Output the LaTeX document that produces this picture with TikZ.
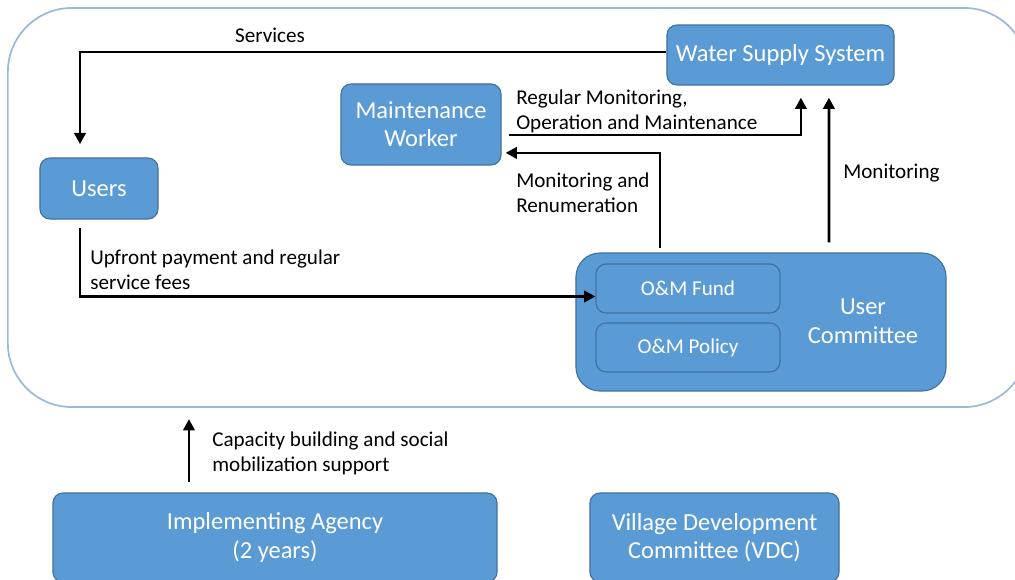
\documentclass[tikz,border=0pt]{standalone}
\usepackage{fontspec}
\setmainfont{Carlito}
\usetikzlibrary{arrows.meta}

\definecolor{boxblue}{HTML}{5B9BD5}
\definecolor{boxedge}{HTML}{41719C}
\definecolor{frameblue}{HTML}{9DB7D8}

\tikzset{
  unit/.style={rounded corners=0.25cm, fill=boxblue, draw=boxedge, line width=0.8pt,
    text=white, align=center, inner sep=0pt, font=\fontsize{17.4}{20}\selectfont},
  subunit/.style={unit, font=\fontsize{15}{18}\selectfont},
  flow/.style={line width=2pt, -{Triangle[length=8pt,width=8pt]}},
  note/.style={align=left, anchor=west, inner sep=0pt, font=\fontsize{15}{17.8}\selectfont}
}

\begin{document}
\begin{tikzpicture}[x=0.025cm,y=-0.025cm]
  \useasboundingbox (0,0) rectangle (1015,580);

  % outer frame of the scheme
  \node[draw=frameblue, line width=1.2pt, rounded corners=1.6cm,
        minimum width=25.5cm, minimum height=9.975cm] (scheme) at (518,207.5) {};

  % boxes
  \node[unit, minimum width=5.675cm, minimum height=1.5cm] (wss) at (780.5,55) {Water Supply System};
  \node[unit, minimum width=4cm, minimum height=2.025cm] (worker) at (421,124.5) {Maintenance\\Worker};
  \node[unit, minimum width=2.95cm, minimum height=1.525cm] (users) at (99,188.5) {Users};
  \node[unit, rounded corners=0.6cm, minimum width=9.25cm, minimum height=3.45cm] (committee) at (761,322) {};
  \node[text=white, align=center, font=\fontsize{17.4}{20.6}\selectfont] (ucname) at (863,321) {User\\Committee};
  \node[subunit, minimum width=4.6cm, minimum height=1.225cm] (fund) at (688,288.5) {O\&M Fund};
  \node[subunit, minimum width=4.6cm, minimum height=1.225cm] (policy) at (688,347.5) {O\&M Policy};
  \node[unit, minimum width=11.1cm, minimum height=2.225cm] (agency) at (275,537.5) {Implementing Agency\\(2 years)};
  \node[unit, minimum width=6.225cm, minimum height=2.225cm] (vdc) at (714.5,537.5) {Village Development\\Committee (VDC)};

  % flows
  \draw[flow, shorten >=0.33cm] ([yshift=0.075cm]wss.west) -| ([xshift=-0.475cm]users.north);
  \draw[flow] ([xshift=-0.475cm,yshift=-0.2cm]users.south) |- ([yshift=-0.2cm]fund.west);
  \draw[flow, shorten >=0.3cm] ([xshift=0.18cm,yshift=-0.26cm]worker.east) -| ([xshift=0.51cm]wss.south);
  \draw[flow, shorten >=0.1cm] ([xshift=-2.525cm,yshift=0.12cm]committee.north) |- ([yshift=-0.71cm]worker.east);
  \draw[flow, shorten >=0.3cm] ([xshift=1.7cm,yshift=0.25cm]committee.north) -- ([xshift=1.21cm]wss.south);
  \draw[flow, shorten >=0.28cm] ([xshift=-2.15cm,yshift=0.25cm]agency.north) -- ([xshift=-2.15cm]agency.north |- scheme.south);

  % labels
  \node[font=\fontsize{15}{17.8}\selectfont, inner sep=0pt] (lservices) at (270,35) {Services};
  \node[note] (lfees) at (90,270) {Upfront payment and regular\\service fees};
  \node[note] (lregular) at (516,111.5) {Regular Monitoring,\\Operation and Maintenance};
  \node[note] (lrenum) at (516,193) {Monitoring and\\Renumeration};
  \node[note] (lmonitor) at (843,173) {Monitoring};
  \node[note] (lcapacity) at (212,453.5) {Capacity building and social\\mobilization support};
\end{tikzpicture}
\end{document}
